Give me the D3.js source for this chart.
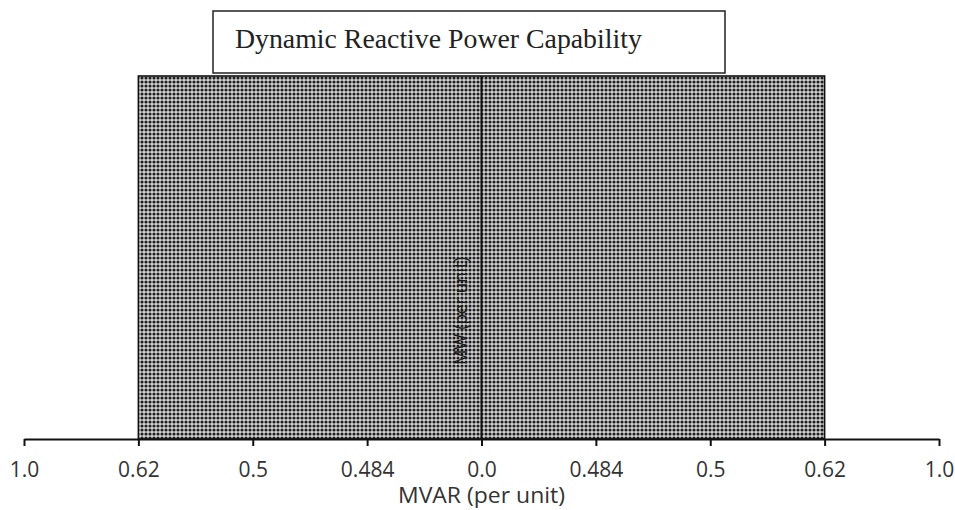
<!DOCTYPE html>
<html>
<head>
<meta charset="utf-8">
<script src="https://cdn.jsdelivr.net/npm/d3@7"></script>
<style>
  html, body { margin: 0; padding: 0; background: #fff; }
  svg { display: block; }
</style>
</head>
<body>
<svg id="chart" width="955" height="510"></svg>
<script>
// ---- data ----
const tickValues = [-1.0, -0.62, -0.5, -0.484, 0.0, 0.484, 0.5, 0.62, 1.0];
const tickLabels = ["1.0", "0.62", "0.5", "0.484", "0.0", "0.484", "0.5", "0.62", "1.0"];
const mvarLeading = [-0.62];   // left edge of capability
const mvarLagging = [0.62];    // right edge of capability
const mwCapability = [1.0];    // MW extent (per unit)
const titleText = "Dynamic Reactive Power Capability";
const xTitle = "MVAR (per unit)";
const yTitle = "MW (per unit)";

// ---- layout ----
const svg = d3.select("#chart");
const axisY = 439;
const left = 24, right = 939;

// piecewise scale: ticks evenly spaced
const x = d3.scaleLinear()
  .domain(tickValues)
  .range(tickValues.map((d, i) => left + i * (right - left) / (tickValues.length - 1)));
const y = d3.scaleLinear().domain([0, 1.0]).range([axisY, 76]);

// stipple pattern
const defs = svg.append("defs");
const pat = defs.append("pattern")
  .attr("id", "stipple")
  .attr("patternUnits", "userSpaceOnUse")
  .attr("width", 4).attr("height", 4);
pat.append("rect").attr("width", 4).attr("height", 4).attr("fill", "#d2d2d2");
pat.append("circle").attr("cx", 2).attr("cy", 2).attr("r", 1.55).attr("fill", "#1e1e1e");

// capability region
svg.append("g").selectAll("rect")
  .data(d3.zip(mvarLeading, mvarLagging, mwCapability))
  .join("rect")
  .attr("x", d => x(d[0]))
  .attr("y", d => y(d[2]))
  .attr("width", d => x(d[1]) - x(d[0]))
  .attr("height", d => y(0) - y(d[2]))
  .attr("fill", "url(#stipple)")
  .attr("stroke", "#111")
  .attr("stroke-width", 1.6);

// y label (inside the region)
svg.append("text")
  .attr("transform", `translate(${x(0) - 15},311) rotate(-90)`)
  .attr("text-anchor", "middle")
  .attr("font-family", "Open Sans, sans-serif")
  .attr("font-size", 18)
  .attr("textLength", 108)
  .attr("lengthAdjust", "spacingAndGlyphs")
  .attr("fill", "#1a1a1a")
  .text(yTitle);

// vertical center line (MW axis)
svg.append("line")
  .attr("x1", x(0)).attr("x2", x(0))
  .attr("y1", y(mwCapability[0])).attr("y2", y(0))
  .attr("stroke", "#111").attr("stroke-width", 2);

// x axis
const xAxis = d3.axisBottom(x)
  .tickValues(tickValues)
  .tickFormat((d, i) => tickLabels[i])
  .tickSizeOuter(0)
  .tickSizeInner(7)
  .tickPadding(16);
const gx = svg.append("g").attr("transform", `translate(0,${axisY})`).call(xAxis);
gx.select(".domain").attr("stroke", "#111").attr("stroke-width", 2);
gx.selectAll(".tick line").attr("stroke", "#111").attr("stroke-width", 2);
gx.selectAll(".tick text")
  .attr("font-family", "Open Sans, sans-serif")
  .attr("font-size", 21)
  .attr("fill", "#333");

svg.append("text")
  .attr("x", x(0)).attr("y", 503)
  .attr("text-anchor", "middle")
  .attr("font-family", "Open Sans, sans-serif")
  .attr("font-size", 21)
  .attr("textLength", 167)
  .attr("lengthAdjust", "spacingAndGlyphs")
  .attr("fill", "#333")
  .text(xTitle);

// title box
svg.append("rect")
  .attr("x", 213).attr("y", 11).attr("width", 512).attr("height", 62)
  .attr("fill", "#fff").attr("stroke", "#222").attr("stroke-width", 1.5);
svg.append("text")
  .attr("x", 235).attr("y", 48)
  .attr("font-family", "Liberation Serif, Times New Roman, serif")
  .attr("font-size", 27.8)
  .attr("fill", "#222")
  .text(titleText);
</script>
</body>
</html>
